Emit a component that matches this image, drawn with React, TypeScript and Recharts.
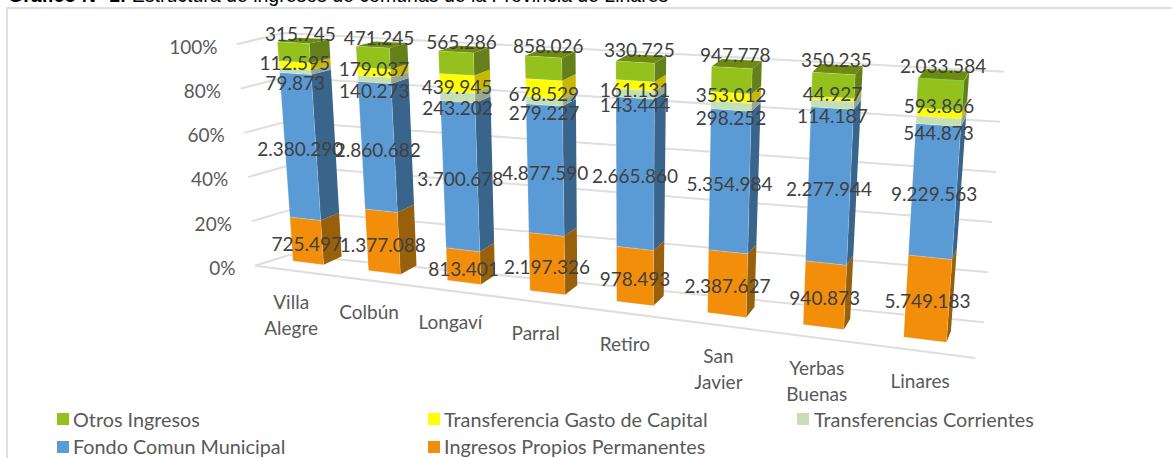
import React from "react";
import { BarChart, Bar, XAxis, YAxis, CartesianGrid, LabelList, Legend } from "recharts";

const categories = ["Villa Alegre", "Colbún", "Longaví", "Parral", "Retiro", "San Javier", "Yerbas Buenas", "Linares"];
const ingresosPropios = [725497, 1377088, 813401, 2197326, 978493, 2387627, 940873, 5749183];
const fondoComun = [2380290, 2860682, 3700678, 4877590, 2665860, 5354984, 2277944, 9229563];
const transfCorrientes = [79873, 140273, 243202, 279227, 143444, 298252, 114187, 544873];
const transfCapital = [112595, 179037, 439945, 678529, 161131, 353012, 44927, 593866];
const otrosIngresos = [315745, 471245, 565286, 858026, 330725, 947778, 350235, 2033584];
const yTicks = [0, 0.2, 0.4, 0.6, 0.8, 1];

const K = { p: "Ingresos Propios Permanentes", f: "Fondo Comun Municipal", c: "Transferencias Corrientes", k: "Transferencia Gasto de Capital", o: "Otros Ingresos" };
const rows = categories.map((c, i) => ({
  name: c,
  [K.p]: ingresosPropios[i],
  [K.f]: fondoComun[i],
  [K.c]: transfCorrientes[i],
  [K.k]: transfCapital[i],
  [K.o]: otrosIngresos[i],
}));

const seriesStyle = [
  { key: K.p, front: "#f28e0a", side: "#98600a", mode: "mid" },
  { key: K.f, front: "#5b9bd5", side: "#39648c", mode: "mid" },
  { key: K.c, front: "#c5e0b4", side: "#97a88c", mode: "light" },
  { key: K.k, front: "#ffff00", side: "#c9b800", mode: "yellow" },
  { key: K.o, front: "#95c11c", side: "#64801a", topFace: "#6f8a12", mode: "top" },
];
const legendRows = [
  [{ key: K.o, sq: 56.5, tx: 73 }, { key: K.k, sq: 428, tx: 444 }, { key: K.c, sq: 797, tx: 814 }],
  [{ key: K.f, sq: 56.5, tx: 73 }, { key: K.p, sq: 428, tx: 444 }],
];
const yellowNudge = [-2.5, -4, 3.5, 4.7, 4, -3, -5, -7];

const W = 1172, H = 458;
const plot = { l: 40, t: 40, r: 40, b: 120 };
const plotW = W - plot.l - plot.r, plotH = H - plot.t - plot.b;
const toU = (x: number) => (x - plot.l) / plotW;
const toV = (y: number) => (y - plot.t) / plotH;
const mix = (a: number, b: number, t: number) => a + (b - a) * t;

// camera: how the plot's flat rectangle is seen in the 3-D view
const topEdge = (u: number) => {
  const x = (559.8 * u + 254.87) / (1 - 0.1829 * u);
  return [x, 41.7 + 0.0571 * (x - 277.4)];
};
const botEdge = (u: number) => {
  const x = (535 * u + 271.4) / (1 - 0.1753 * u);
  return [x, 261 + 0.1244 * (x - 293)];
};
const front = (u: number, v: number) => {
  const a = topEdge(u), b = botEdge(u);
  return [mix(a[0], b[0], v), mix(a[1], b[1], v)];
};
const depth = (u: number, v: number) => {
  const w = u - 0.088;
  return [mix(20 - 16.6 * w, 18 - 15.5 * w, v), mix(-4.3 - 5.7 * w, -8.4 - 3 * w, v)];
};
const back = (u: number, v: number) => {
  const p = front(u, v), d = depth(u, v);
  return [p[0] + d[0], p[1] + d[1]];
};
const pts = (...l: number[][]) => l.map((p) => `${p[0].toFixed(1)},${p[1].toFixed(1)}`).join(" ");

const wall = {
  frontTop: [237, 44.3], frontBot: [255, 265.7],
  cornerTop: [283, 33], cornerBot: [290, 254.7],
  rightTop: [1003.9, 71.7], rightBot: [984.2, 322.3],
  floorEnd: [975.3, 358],
};
const onEdge = (a: number[], b: number[], v: number) => [mix(a[0], b[0], v), mix(a[1], b[1], v)];

function GridLine(p: any) {
  const v = toV(p.y1);
  const a = onEdge(wall.frontTop, wall.frontBot, v);
  const c = onEdge(wall.cornerTop, wall.cornerBot, v);
  const r = onEdge(wall.rightTop, wall.rightBot, v);
  return (
    <g key={p.key ?? p.y1}>
      <polyline points={pts(a, c, r)} fill="none" stroke="#dedede" strokeWidth={2} />
      {v > 0.99 && <line x1={a[0]} y1={a[1]} x2={wall.floorEnd[0]} y2={wall.floorEnd[1]} stroke="#dedede" strokeWidth={2} />}
    </g>
  );
}

function YTick(p: any) {
  const v = toV(p.y);
  const a = onEdge(wall.frontTop, wall.frontBot, v);
  return (
    <text x={a[0] - 19.5} y={a[1] + 1.7} textAnchor="end" dominantBaseline="central" fontFamily="Lato" fontSize={19} fill="#595959">
      {Math.round(p.payload.value * 100)}%
    </text>
  );
}

function XTick(p: any) {
  const u = toU(p.x);
  const b = botEdge(u);
  const x = b[0] - 0.9 * depth(u, 1)[0] - 0.5;
  const y = wall.frontBot[1] + 0.1255 * (x - wall.frontBot[0]) + 31.5;
  const lines = String(p.payload.value).split(" ");
  return (
    <text textAnchor="middle" fontFamily="Lato" fontSize={19} fill="#595959">
      {lines.map((l, i) => (
        <tspan key={l} x={x} y={y + i * 26} dominantBaseline="central">{l}</tspan>
      ))}
    </text>
  );
}

function Segment(p: any) {
  const s = p.style;
  const u0 = toU(p.x), u1 = toU(p.x + p.width);
  const v0 = toV(p.y), v1 = toV(p.y + p.height);
  const edge = s.topFace && p.index === categories.length - 1 ? "#84cc4e" : s.front;
  return (
    <g>
      <polygon points={pts(front(u1, v0), back(u1, v0), back(u1, v1), front(u1, v1))} fill={s.side} />
      {s.topFace && <polygon points={pts(front(u0, v0), front(u1, v0), back(u1, v0), back(u0, v0))} fill={s.topFace} stroke={edge} strokeOpacity={edge === s.front ? 0 : 1} />}
      <polygon points={pts(front(u0, v0), front(u1, v0), front(u1, v1), front(u0, v1))} fill={s.front} stroke={edge === s.front ? "#ffffff" : edge} strokeOpacity={edge === s.front ? 0.18 : 1} strokeWidth={1} />
    </g>
  );
}

const fmt = (n: number) => String(n).replace(/\B(?=(\d{3})+(?!\d))/g, ".");

function DataLabel(p: any) {
  const s = p.mode;
  const u = toU(p.x + p.width / 2);
  const v0 = toV(p.y), v1 = toV(p.y + p.height);
  let pos = front(u, (v0 + v1) / 2);
  if (s === "mid") pos = [pos[0], pos[1] + 2.5];
  if (s === "light") pos = [pos[0], pos[1] + 11];
  if (s === "yellow") pos = [pos[0], pos[1] + yellowNudge[p.index]];
  if (s === "top") {
    const f = front(u, v0), d = depth(u, v0);
    pos = [f[0] + d[0] * 0.35, f[1] + d[1] / 2 - 7 - 3 * u];
  }
  return (
    <text x={pos[0]} y={pos[1]} textAnchor="middle" dominantBaseline="central" fontFamily="Lato" fontSize={19} fill="#404040">
      {fmt(p.value)}
    </text>
  );
}

function LegendBox(props: any) {
  const colorOf = (k: string) => (props.payload || []).find((e: any) => e.value === k)?.color;
  return (
    <div style={{ position: "relative", width: 0, height: 0 }}>
      {legendRows.map((row, r) =>
        row.map((it) => (
          <React.Fragment key={it.key}>
            <div style={{ position: "absolute", left: it.sq, top: 413 + r * 27.5, width: 12, height: 12, background: colorOf(it.key) }} />
            <div style={{ position: "absolute", left: it.tx, top: 406.5 + r * 27.5, lineHeight: "24px", fontFamily: "Lato", fontSize: 19.8, color: "#595959", whiteSpace: "nowrap" }}>{it.key}</div>
          </React.Fragment>
        ))
      )}
    </div>
  );
}

export default function App() {
  return (
    <div style={{ position: "absolute", left: 0, top: 0, width: W, height: H, overflow: "hidden", background: "#fff" }}>
      <div style={{ position: "absolute", left: 8, top: -15, fontFamily: "Liberation Sans", fontSize: 19.5, lineHeight: "20px", color: "#000", whiteSpace: "nowrap" }}>
        <b>Gráfico N° 1:</b> Estructura de ingresos de comunas de la Provincia de Linares
      </div>
      <div style={{ position: "absolute", left: 6, top: 7, width: W, height: H, borderLeft: "2px solid #dedede", borderTop: "2px solid #dedede" }} />
      <div style={{ position: "absolute", left: 0, top: 0 }}>
        <BarChart width={W} height={H} data={rows} stackOffset="expand" barCategoryGap="29.5%" margin={{ left: plot.l - 1, right: plot.r, top: plot.t, bottom: plot.b - 1 }}>
          <CartesianGrid vertical={false} horizontal={GridLine as any} />
          <XAxis dataKey="name" axisLine={false} tickLine={false} height={1} interval={0} tick={XTick as any} />
          <YAxis domain={[0, 1]} ticks={yTicks} axisLine={false} tickLine={false} width={1} tick={YTick as any} />
          <XAxis xAxisId="labels" dataKey="name" hide />
          <YAxis yAxisId="labels" domain={[0, 1]} hide />
          {seriesStyle.map((s) => (
            <Bar key={s.key} dataKey={s.key} stackId="a" fill={s.front} isAnimationActive={false} shape={((p: any) => <Segment {...p} style={s} />) as any} />
          ))}
          {seriesStyle.map((s) => (
            <Bar key={"l" + s.key} dataKey={s.key} stackId="labels" xAxisId="labels" yAxisId="labels" legendType="none" fill="none" isAnimationActive={false} shape={(() => null) as any}>
              <LabelList dataKey={s.key} content={((p: any) => <DataLabel {...p} mode={s.mode} />) as any} />
            </Bar>
          ))}
          <Legend content={LegendBox as any} wrapperStyle={{ position: "absolute", left: 0, top: 0, width: 0, height: 0, bottom: "auto" }} />
        </BarChart>
      </div>
    </div>
  );
}
